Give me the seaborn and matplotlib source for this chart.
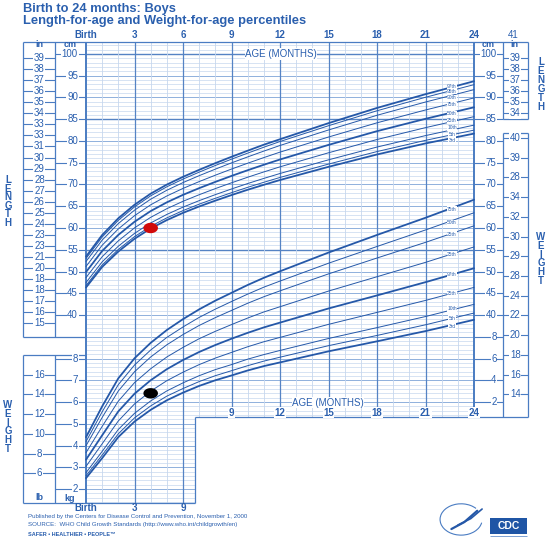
import numpy as np
import matplotlib
matplotlib.use("Agg")
import matplotlib.pyplot as plt
from matplotlib.patches import Arc, Rectangle
from matplotlib.path import Path
import seaborn as sns

# Datos: percentiles OMS niños, 0-24 meses
ages = [0, 1, 2, 3, 4, 5, 6, 7, 8, 9, 10, 11, 12, 15, 18, 21, 24]

# Longitud (cm) por percentil
len_p3 = [46.33, 51.05, 54.60, 57.52, 59.89, 61.82, 63.48, 64.95, 66.29, 67.57, 68.79, 69.93, 71.03, 74.06, 76.90, 79.44, 81.70]
len_p5 = [46.77, 51.51, 55.08, 58.01, 60.39, 62.33, 64.00, 65.48, 66.83, 68.12, 69.35, 70.51, 71.62, 74.69, 77.57, 80.15, 82.50]
len_p10 = [47.46, 52.22, 55.82, 58.76, 61.16, 63.12, 64.80, 66.29, 67.67, 68.97, 70.22, 71.40, 72.53, 75.67, 78.61, 81.24, 83.65]
len_p25 = [48.61, 53.40, 57.05, 60.03, 62.45, 64.44, 66.14, 67.65, 69.06, 70.39, 71.67, 72.89, 74.06, 77.29, 80.34, 83.07, 85.60]
len_p50 = [49.88, 54.72, 58.42, 61.43, 63.89, 65.90, 67.62, 69.16, 70.60, 71.97, 73.28, 74.54, 75.75, 79.10, 82.26, 85.10, 87.75]
len_p75 = [51.15, 56.04, 59.79, 62.83, 65.33, 67.36, 69.10, 70.67, 72.14, 73.55, 74.89, 76.19, 77.44, 80.91, 84.18, 87.13, 89.90]
len_p90 = [52.30, 57.22, 61.02, 64.10, 66.62, 68.68, 70.44, 72.03, 73.53, 74.97, 76.34, 77.68, 78.97, 82.53, 85.91, 88.96, 91.80]
len_p95 = [52.99, 57.93, 61.76, 64.85, 67.39, 69.47, 71.24, 72.84, 74.37, 75.82, 77.21, 78.57, 79.88, 83.51, 86.95, 90.05, 92.95]
len_p97 = [53.43, 58.39, 62.24, 65.34, 67.89, 69.98, 71.76, 73.37, 74.91, 76.37, 77.77, 79.15, 80.40, 84.10, 87.60, 90.76, 93.74]
len_labels = ["3rd", "5th", "10th", "25th", "50th", "75th", "90th", "95th", "97th"]
len_label_cm = [80.2, 81.6, 83.0, 84.6, 86.4, 88.3, 89.9, 91.3, 92.6]

# Peso (kg) por percentil
wt_p3 = [2.50, 3.42, 4.39, 5.10, 5.64, 6.08, 6.43, 6.74, 7.00, 7.22, 7.45, 7.65, 7.82, 8.33, 8.79, 9.26, 9.78]
wt_p5 = [2.61, 3.56, 4.54, 5.27, 5.82, 6.27, 6.62, 6.94, 7.21, 7.44, 7.67, 7.88, 8.06, 8.59, 9.06, 9.55, 10.09]
wt_p10 = [2.75, 3.73, 4.74, 5.48, 6.05, 6.51, 6.88, 7.21, 7.49, 7.72, 7.97, 8.18, 8.37, 8.92, 9.42, 9.93, 10.49]
wt_p25 = [3.04, 4.08, 5.13, 5.91, 6.50, 6.98, 7.37, 7.72, 8.02, 8.28, 8.54, 8.77, 8.97, 9.57, 10.12, 10.67, 11.27]
wt_p50 = [3.35, 4.47, 5.57, 6.38, 7.00, 7.51, 7.93, 8.30, 8.62, 8.91, 9.18, 9.43, 9.65, 10.30, 10.90, 11.51, 12.15]
wt_p75 = [3.67, 4.88, 6.04, 6.89, 7.53, 8.07, 8.51, 8.91, 9.25, 9.56, 9.86, 10.14, 10.38, 11.10, 11.76, 12.42, 13.13]
wt_p90 = [3.99, 5.29, 6.51, 7.39, 8.07, 8.63, 9.10, 9.52, 9.88, 10.21, 10.54, 10.84, 11.11, 11.89, 12.62, 13.34, 14.10]
wt_p95 = [4.18, 5.55, 6.80, 7.70, 8.39, 8.97, 9.45, 9.89, 10.27, 10.62, 10.96, 11.28, 11.56, 12.38, 13.15, 13.91, 14.70]
wt_p97 = [4.38, 5.80, 7.09, 8.01, 8.72, 9.31, 9.81, 10.26, 10.66, 11.02, 11.38, 11.71, 12.01, 12.87, 13.68, 14.47, 15.30]
wt_labels = ["3rd", "5th", "10th", "25th", "97th", "25th", "25th", "50th", "75th"]
wt_label_kg = [9.49, 9.86, 10.28, 10.97, 11.84, 12.80, 13.72, 14.24, 14.87]

# Mediciones del paciente
pt_age = [4]
pt_length = [60]
pt_weight = [6.4]

# Etiquetas de ejes
age_ticks = [0, 3, 6, 9, 12, 15, 18, 21, 24]
age_text = ["Birth", "3", "6", "9", "12", "15", "18", "21", "24"]
cm_ticks = [100, 95, 90, 85, 80, 75, 70, 65, 60, 55, 50, 45, 40]
in_ticks = list(range(39, 14, -1))
in_text = ["39", "38", "37", "36", "35", "34", "33", "33", "31", "30", "29", "28", "27",
           "26", "25", "24", "23", "23", "21", "20", "18", "18", "17", "16", "15"]
right_in_ticks = [39, 38, 37, 36, 35, 34]
kg_ticks = [8, 7, 6, 5, 4, 3, 2]
lb_ticks = [16, 14, 12, 10, 8, 6]
right_kg_ticks = [35, 30, 25, 20]
right_kg_text = ["8", "6", "4", "2"]
right_lb_ticks = [40, 38, 36, 34, 32, 30, 28, 26, 24, 22, 20, 18, 16, 14]
right_lb_text = ["40", "39", "28", "34", "32", "30", "29", "28", "24", "22", "20", "18", "16", "14"]

# Colores
BLUE = "#2a5fae"
CURVE = "#2558a8"
LIGHT = "#c6d7ee"
MID = "#8fb0dc"
DARK = "#5583c4"
BOX = "#4a7cc2"

sns.set_theme(style="white")
plt.rcParams["font.family"] = ["Liberation Sans", "DejaVu Sans"]

fig = plt.figure(figsize=(5.5, 5.42), dpi=100)
ax = fig.add_axes([0, 0, 1, 1])
ax.set_xlim(-5.32, 28.70)
ax.set_ylim(-12.18, 112.41)
ax.axis("off")
axw = ax.twinx()
axw.set_ylim(2 - 12.18 / 5, 2 + 112.41 / 5)
axw.axis("off")

# limites de las cajas
X_L0, X_LD, X_STEP, X_RD, X_R1 = -3.90, -1.92, 6.74, 25.79, 27.34
Y_TOP, Y_LBOT, Y_WTOP, Y_BOT, Y_RBOT = 102.76, 34.94, 30.8, -3.2, 16.55
Y_INBOT, Y_LBTOP = 85.06, 81.84

# cuadricula
for c in range(-3, 103):
    x_end = 24 if c >= Y_RBOT else X_STEP
    if c in (100, 85, 55):
        col, lw = DARK, 1.0
    elif c % 5 == 0:
        col, lw = MID, 0.7
    else:
        col, lw = LIGHT, 0.5
    ax.hlines(c, 0, x_end, colors=col, lw=lw, zorder=1)
for m in range(25):
    y_bot = Y_BOT if m <= 6 else Y_RBOT
    if m in (0, 24):
        col, lw = BOX, 1.4
    elif m % 3 == 0:
        col, lw = DARK, 0.9
    else:
        col, lw = LIGHT, 0.6
    ax.vlines(m, y_bot, Y_TOP, colors=col, lw=lw, zorder=1.5)

# marcos
box_kw = dict(colors=BOX, lw=0.9, zorder=2)
ax.hlines(Y_TOP, X_L0, X_R1, **box_kw)
ax.vlines([X_L0, X_LD], Y_LBOT, Y_TOP, **box_kw)
ax.hlines(Y_LBOT, X_L0, 0, **box_kw)
ax.hlines(Y_WTOP, X_L0, 0, **box_kw)
ax.vlines([X_L0, X_LD], Y_BOT, Y_WTOP, **box_kw)
ax.hlines(Y_BOT, X_L0, X_STEP, **box_kw)
ax.vlines(X_STEP, Y_BOT, Y_RBOT, **box_kw)
ax.hlines(Y_RBOT, X_STEP, X_R1, **box_kw)
ax.vlines([X_RD, X_R1], Y_INBOT, Y_TOP, **box_kw)
ax.vlines([X_RD, X_R1], Y_RBOT, Y_LBTOP, **box_kw)
ax.hlines(Y_INBOT, X_RD, X_R1, **box_kw)
ax.hlines(Y_LBTOP, X_RD, X_R1, **box_kw)

lab_kw = dict(color=BLUE, fontsize=7, zorder=4)
wbox = dict(fc="white", ec="none", pad=0.4)

# etiquetas de edad
for m, t in zip(age_ticks, age_text):
    ax.text(m, 104.4, t, ha="center", va="center", fontweight="bold", **lab_kw)
for m, t in zip(age_ticks[:3], ["Birth", "3", "9"]):
    ax.text(m, -4.4, t, ha="center", va="center", fontweight="bold", **lab_kw)
for m, t in zip(age_ticks[3:], age_text[3:]):
    ax.text(m, 17.5, t, ha="center", va="center", fontweight="bold",
            bbox=wbox, **lab_kw)
ax.text(12.06, 100, "AGE (MONTHS)", ha="center", va="center", bbox=wbox, **lab_kw)
ax.text(14.97, 19.8, "AGE (MONTHS)", ha="center", va="center", bbox=wbox, **lab_kw)

# escalas de longitud
for c in cm_ticks:
    ax.hlines(c, X_LD, 0, colors=BOX, lw=0.8, zorder=2)
    ax.text(-0.5, c, str(c), ha="right", va="center", bbox=wbox, **lab_kw)
    ax.hlines(c, 24, X_RD, colors=BOX, lw=0.8, zorder=2)
    ax.text(25.4, c, str(c), ha="right", va="center", bbox=wbox, **lab_kw)
for c, t in zip(right_kg_ticks, right_kg_text):
    ax.hlines(c, 24, X_RD, colors=BOX, lw=0.8, zorder=2)
    ax.text(25.4, c, t, ha="right", va="center", bbox=wbox, **lab_kw)
for i, t in zip(in_ticks, in_text):
    ax.hlines(i * 2.54, X_L0, X_LD, colors=BOX, lw=0.8, zorder=2)
    ax.text(-2.88, i * 2.54, t, ha="center", va="center", bbox=wbox, **lab_kw)
for i in right_in_ticks:
    ax.hlines(i * 2.54, X_RD, X_R1, colors=BOX, lw=0.8, zorder=2)
    ax.text(26.56, i * 2.54, str(i), ha="center", va="center", bbox=wbox, **lab_kw)
head_kw = dict(ha="center", va="center", fontweight="bold", color=BLUE, fontsize=6.5, zorder=4)
ax.text(-0.99, 102.15, "cm", **head_kw)
ax.text(-2.88, 102.15, "in", **head_kw)
ax.text(24.9, 102.15, "cm", **head_kw)
ax.text(26.5, 102.15, "in", **head_kw)
ax.text(26.45, 104.3, "41", ha="center", va="center", **lab_kw)

# escalas de peso
for k in kg_ticks:
    axw.hlines(k, X_LD, 0, colors=BOX, lw=0.8, zorder=2)
    axw.text(-0.5, k, str(k), ha="right", va="center", bbox=wbox, **lab_kw)
for lb in lb_ticks:
    axw.hlines(lb / 2.2046, X_L0, X_LD, colors=BOX, lw=0.8, zorder=2)
    axw.text(-2.88, lb / 2.2046, str(lb), ha="center", va="center", bbox=wbox, **lab_kw)
for lb, t in zip(right_lb_ticks, right_lb_text):
    axw.hlines(lb / 2.2046, X_RD, X_R1, colors=BOX, lw=0.8, zorder=2)
    axw.text(26.56, lb / 2.2046, t, ha="center", va="center", bbox=wbox, **lab_kw)
axw.text(-0.99, 1.57, "kg", **head_kw)
axw.text(-2.88, 1.6, "lb", **head_kw)

# curvas
bold = (0, 4, 8)
pct_kw = dict(ha="center", va="center", fontsize=3.5, color=BLUE, zorder=4,
              bbox=dict(fc="white", ec="none", pad=0.1))
len_curves = [len_p3, len_p5, len_p10, len_p25, len_p50, len_p75, len_p90, len_p95, len_p97]
wt_curves = [wt_p3, wt_p5, wt_p10, wt_p25, wt_p50, wt_p75, wt_p90, wt_p95, wt_p97]
for i, (vals, lab, ly) in enumerate(zip(len_curves, len_labels, len_label_cm)):
    sns.lineplot(x=ages, y=vals, ax=ax, color=CURVE, lw=1.3 if i in bold else 0.7, zorder=3)
    ax.text(22.64, ly, lab, **pct_kw)
for i, (vals, lab, ly) in enumerate(zip(wt_curves, wt_labels, wt_label_kg)):
    sns.lineplot(x=ages, y=vals, ax=axw, color=CURVE, lw=1.3 if i in bold else 0.7, zorder=3)
    axw.text(22.64, ly, lab, **pct_kw)

# puntos del paciente
t = np.linspace(0, 2 * np.pi, 40)
ellipse = Path(np.column_stack([1.4 * np.cos(t), np.sin(t)]))
sns.scatterplot(x=pt_age, y=pt_length, ax=ax, color="#d10a0a", marker=ellipse,
                s=110, edgecolor="none", zorder=5)
sns.scatterplot(x=pt_age, y=pt_weight, ax=axw, color="black", marker=ellipse,
                s=110, edgecolor="none", zorder=5)

# titulos
ax.text(X_L0, 110.3, "Birth to 24 months: Boys", ha="left", va="center",
        fontsize=9.3, fontweight="bold", color=BLUE)
ax.text(X_L0, 107.6, "Length-for-age and Weight-for-age percentiles", ha="left",
        va="center", fontsize=9.3, fontweight="bold", color=BLUE)

# letras verticales
for j, ch in enumerate("LENGTH"):
    ax.text(-4.82, 71.0 - j * 1.95, ch, ha="center", va="center", fontsize=7,
            fontweight="bold", color=BLUE)
    ax.text(28.14, 98.16 - j * 2.07, ch, ha="center", va="center", fontsize=7,
            fontweight="bold", color=BLUE)
for j, ch in enumerate("WEIGHT"):
    ax.text(-4.82, 19.3 - j * 2.02, ch, ha="center", va="center", fontsize=7,
            fontweight="bold", color=BLUE)
    ax.text(28.14, 57.9 - j * 2.02, ch, ha="center", va="center", fontsize=7,
            fontweight="bold", color=BLUE)

# pie
foot_kw = dict(ha="left", va="center", fontsize=4.4, color=BLUE)
ax.text(-3.59, -6.4, "Published by the Centers for Disease Control and Prevention, November 1, 2000", **foot_kw)
ax.text(-3.59, -8.05, "SOURCE:  WHO Child Growth Standards (http://www.who.int/childgrowth/en)", **foot_kw)
ax.text(-3.59, -10.45, "SAFER \u2022 HEALTHIER \u2022 PEOPLE\u2122", ha="left", va="center",
        fontsize=4.0, fontweight="bold", color=BLUE)

# logotipos
ax.add_patch(Arc((23.2, -7.0), 2.6, 7.2, theta1=70, theta2=330, color=BOX, lw=0.8))
ax.plot([22.6, 23.4, 24.2], [-9.2, -7.6, -5.0], color=CURVE, lw=1.6)
ax.plot([23.0, 23.8, 24.5], [-8.3, -6.8, -4.6], color=CURVE, lw=1.2)
ax.add_patch(Rectangle((25.0, -10.3), 2.3, 3.7, fc="#1f55a5", ec="none"))
ax.text(26.15, -8.45, "CDC", ha="center", va="center", fontsize=7.5,
        fontweight="bold", color="white")
ax.hlines(-10.9, 25.0, 27.3, colors=BOX, lw=0.5)

fig.savefig("out.png", dpi=100)
